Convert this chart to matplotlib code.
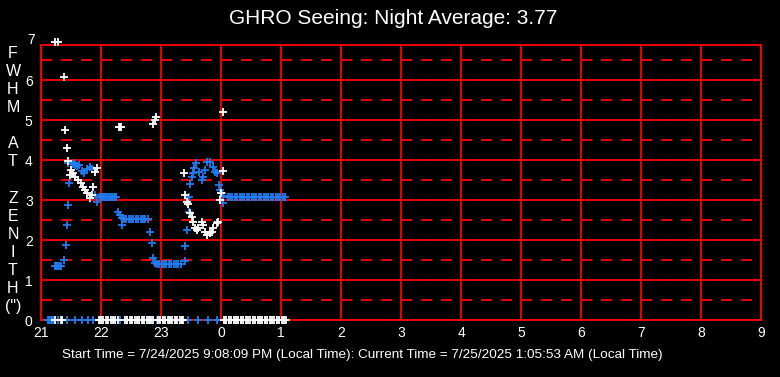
import matplotlib
matplotlib.use("Agg")
import matplotlib.pyplot as plt

plt.rcParams['font.family'] = ['Liberation Sans', 'DejaVu Sans']
plt.rcParams['lines.scale_dashes'] = False

# hours after 21:00 local time, values past midnight written as 24+
white_hours = [21.23, 21.33, 21.35,
               21.24, 21.29, 21.38, 21.40, 21.43, 21.45, 21.48, 21.50, 21.53,
               21.57, 21.62, 21.67, 21.70, 21.73, 21.77, 21.82, 21.85, 21.87,
               21.90, 21.93,
               21.96, 22.00, 22.04, 22.08, 22.12, 22.16, 22.20, 22.24, 22.28,
               22.30, 22.32, 22.34,
               22.40, 22.44, 22.48, 22.52, 22.56, 22.60, 22.64, 22.68, 22.72,
               22.76, 22.80, 22.84, 22.87,
               22.87, 22.90, 22.92,
               22.95, 22.99, 23.03, 23.07, 23.11, 23.15, 23.19, 23.23, 23.27,
               23.31, 23.35, 23.37,
               23.39, 23.40, 23.44, 23.45, 23.48, 23.52, 23.54, 23.57, 23.60,
               23.62, 23.69, 23.70, 23.74, 23.77, 23.82, 23.85, 23.87, 23.94,
               23.95, 23.99, 24.00, 24.04, 24.04,
               24.05, 24.09, 24.13, 24.17, 24.21, 24.25, 24.29, 24.33, 24.37,
               24.41, 24.45, 24.49, 24.53, 24.57, 24.61, 24.65, 24.69, 24.73,
               24.77, 24.81, 24.85, 24.89, 24.93, 24.97, 25.01, 25.05, 25.08]
white_fwhm = [0, 0, 0,
              6.95, 6.95, 6.07, 4.75, 4.30, 3.97, 3.62, 3.75, 3.68,
              3.57, 3.50, 3.42, 3.33, 3.25, 3.17, 3.05, 3.12, 3.33,
              3.70, 3.80,
              0, 0, 0, 0, 0, 0, 0, 0, 0,
              4.83, 4.83, 4.83,
              0, 0, 0, 0, 0, 0, 0, 0, 0,
              0, 0, 0, 0,
              4.90, 5.00, 5.07,
              0, 0, 0, 0, 0, 0, 0, 0, 0,
              0, 0, 0,
              3.68, 3.12, 2.95, 2.90, 2.67, 2.58, 2.45, 2.30, 2.25,
              2.30, 2.45, 2.37, 2.20, 2.12, 2.17, 2.20, 2.30, 2.42,
              2.45, 3.00, 3.17, 3.72, 5.20,
              0, 0, 0, 0, 0, 0, 0, 0, 0,
              0, 0, 0, 0, 0, 0, 0, 0, 0,
              0, 0, 0, 0, 0, 0, 0, 0, 0]

blue_hours = [21.12, 21.14, 21.16, 21.18, 21.20,
              21.23, 21.25, 21.27, 21.29, 21.31, 21.33,
              21.38, 21.41, 21.43, 21.45, 21.47, 21.45,
              21.53, 21.55, 21.57, 21.60, 21.63, 21.68, 21.72, 21.77, 21.82,
              21.85, 21.87, 21.90, 21.93,
              21.98, 22.01, 22.04, 22.07, 22.10, 22.13, 22.16, 22.19, 22.22,
              22.25,
              22.29, 22.32, 22.35, 22.35,
              22.38, 22.42, 22.46, 22.50, 22.54, 22.58, 22.62, 22.66, 22.70,
              22.74, 22.78,
              22.82, 22.85, 22.87, 22.90,
              22.93, 22.97, 23.01, 23.05, 23.09, 23.13, 23.17, 23.21, 23.25,
              23.29, 23.33,
              23.40, 23.40, 23.44, 23.47, 23.47, 23.49, 23.52, 23.54, 23.55,
              23.58, 23.63, 23.68, 23.70, 23.74, 23.77, 23.82, 23.87, 23.90,
              23.94, 23.97, 23.99, 24.02, 24.04, 24.04,
              24.11, 24.15, 24.19, 24.23, 24.27, 24.31, 24.35, 24.39, 24.43,
              24.47, 24.51, 24.55, 24.59, 24.63, 24.67, 24.71, 24.75, 24.79,
              24.83, 24.87, 24.91, 24.95, 24.99, 25.03, 25.07,
              21.28, 21.43, 21.57, 21.68, 21.78, 21.87, 21.97, 22.02, 22.12,
              22.22, 22.32, 22.44, 22.52, 22.62, 22.70, 22.80, 22.94, 23.04,
              23.14, 23.24, 23.34, 23.45, 23.62, 23.78, 23.94, 24.06, 24.14,
              24.24, 24.34, 24.44, 24.54, 24.64, 24.74, 24.84, 24.94, 25.04]
blue_fwhm = [0, 0, 0, 0, 0,
             1.35, 1.35, 1.35, 1.35, 1.35, 1.35,
             1.50, 1.88, 2.38, 2.87, 3.42, 3.92,
             3.90, 3.92, 3.88, 3.85, 3.87, 3.72, 3.67, 3.78, 3.83,
             3.78, 3.33, 3.12, 2.95,
             3.07, 3.07, 3.07, 3.07, 3.07, 3.07, 3.07, 3.07, 3.07,
             3.07,
             2.70, 2.62, 2.55, 2.37,
             2.52, 2.52, 2.52, 2.52, 2.52, 2.52, 2.52, 2.52, 2.52,
             2.52, 2.52,
             2.20, 1.92, 1.55, 1.42,
             1.40, 1.40, 1.40, 1.40, 1.40, 1.40, 1.40, 1.40, 1.40,
             1.40, 1.40,
             1.48, 1.85, 2.25, 2.70, 3.08, 3.40, 3.58, 3.67, 3.80,
             3.93, 3.70, 3.50, 3.57, 3.75, 3.95, 3.95, 3.83, 3.70,
             3.67, 3.37, 3.25, 3.17, 3.10, 2.92,
             3.07, 3.07, 3.07, 3.07, 3.07, 3.07, 3.07, 3.07, 3.07,
             3.07, 3.07, 3.07, 3.07, 3.07, 3.07, 3.07, 3.07, 3.07,
             3.07, 3.07, 3.07, 3.07, 3.07, 3.07, 3.07,
             0, 0, 0, 0, 0, 0, 0, 0, 0,
             0, 0, 0, 0, 0, 0, 0, 0, 0,
             0, 0, 0, 0, 0, 0, 0, 0, 0,
             0, 0, 0, 0, 0, 0, 0, 0, 0]

hour_ticks = list(range(21, 34))
hour_labels = ['21', '22', '23', '0', '1', '2', '3', '4', '5', '6', '7', '8', '9']
fwhm_ticks = [0, 1, 2, 3, 4, 5, 6, 7]
half_lines = [0.5, 1.5, 2.5, 3.5, 4.5, 5.5, 6.5]

title = 'GHRO Seeing: Night Average: 3.77'
footer = ('Start Time = 7/24/2025 9:08:09 PM (Local Time): '
          'Current Time = 7/25/2025 1:05:53 AM (Local Time)')
ylabel = 'F\nW\nH\nM\n\nA\nT\n\nZ\nE\nN\nI\nT\nH\n(")'

red = '#ff0000'
blue = '#1e7cf2'

fig = plt.figure(figsize=(7.8, 3.77), dpi=100, facecolor='black')
ax = fig.add_axes([41 / 780, 57 / 377, 720 / 780, 275 / 377])
ax.set_facecolor('black')

for h in hour_ticks:
    ax.axvline(h, color=red, lw=1.3, zorder=1)
for v in fwhm_ticks:
    ax.axhline(v, color=red, lw=1.3, zorder=1)
for v in half_lines:
    ax.axhline(v, color=red, lw=1.3, dashes=(8, 6.4), zorder=1)

ax.plot(blue_hours, blue_fwhm, ls='none', marker='+', ms=6, mew=1.3,
        color=blue, clip_on=False, zorder=3)
ax.plot(white_hours, white_fwhm, ls='none', marker='+', ms=6, mew=1.3,
        color='white', clip_on=False, zorder=4)

ax.set_xticks(hour_ticks)
ax.set_xticklabels(hour_labels)
ax.set_yticks(fwhm_ticks)
# the box stops a little below 7, the 7 label sits just above it
ax.set_xlim(21, 33)
ax.set_ylim(0, 6.875)
ax.tick_params(colors='white', labelsize=10, length=0, pad=4)
ax.tick_params(axis='y', pad=6)
for s in ax.spines.values():
    s.set_color(red)
    s.set_linewidth(1.3)

# set_ylim hides the 7 tick, so put that label by hand
ax.text(-0.009, 7, '7', transform=ax.get_yaxis_transform(), color='white',
        fontsize=10, ha='right', va='center', clip_on=False)

fig.text(393 / 780, 1 - 18 / 377, title, color='white', fontsize=15,
         ha='center', va='center')
fig.text(362 / 780, 1 - 355 / 377, footer, color='white', fontsize=9.7,
         ha='center', va='center')
fig.text(13 / 780, 1 - 180 / 377, ylabel, color='white', fontsize=11.5,
         ha='center', va='center', linespacing=1.26)

fig.savefig('out.png', dpi=100, facecolor='black')
